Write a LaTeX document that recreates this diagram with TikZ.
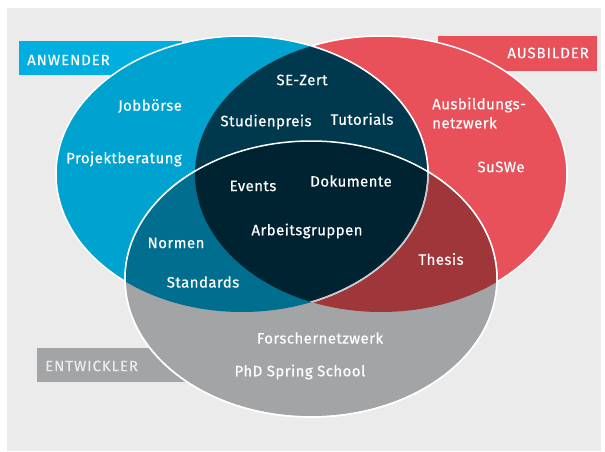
\documentclass[tikz,border=0pt]{standalone}
\usepackage{fontspec}
\setmainfont{Fira Sans}
\newfontfamily\vennfont{Fira Sans}[FakeBold=0.4, LetterSpace=3]
\newfontfamily\tagfont{Fira Sans}[FakeBold=0.4, LetterSpace=6]
\usepackage{tkz-euclide}
\usetikzlibrary{calc}
\usetikzlibrary{positioning}

\definecolor{paper}{RGB}{235,235,235}
\definecolor{anwBlue}{RGB}{0,162,207}
\definecolor{anwTag}{RGB}{0,174,224}
\definecolor{ausRed}{RGB}{232,80,90}
\definecolor{entGrey}{RGB}{163,164,166}
\definecolor{anwAus}{RGB}{0,56,77}
\definecolor{anwEnt}{RGB}{0,110,143}
\definecolor{ausEnt}{RGB}{158,54,58}
\definecolor{allThree}{RGB}{0,35,50}
\definecolor{seam}{RGB}{200,200,202}

\newcommand{\vennset}[1]{(#1) ellipse [x radius=186, y radius=138]}

\tikzset{
  rim/.style={draw=white, line width=1.5pt},
  tag/.style={inner sep=0pt, text=white, font=\tagfont\fontsize{15}{18}\selectfont},
  item/.style={inner sep=0pt, text=white, align=center,
    font=\vennfont\fontsize{15}{19}\selectfont}
}

\begin{document}
\begin{tikzpicture}[x=1pt, y=1pt]
      \useasboundingbox (0,0) rectangle (605,451);
      \fill[white] (0,0) rectangle (605,451);
      \fill[paper] (7,0) rectangle (601,443);

      \tkzDefPoints{242/277/B, 381/277/R, 311/172/G}

      \fill[anwTag] (19,376) rectangle (182,410);
      \fill[ausRed] (438,380) rectangle (597,415);
      \fill[entGrey] (37,69) rectangle (190,103);

      \fill[ausRed, rim] \vennset{R};
      \fill[anwBlue, rim] \vennset{B};
      \fill[entGrey, rim] \vennset{G};

      \begin{scope}
        \clip \vennset{R};
        \fill[ausEnt] \vennset{G};
      \end{scope}
      \begin{scope}
        \clip \vennset{B};
        \fill[anwAus] \vennset{R};
        \fill[anwEnt] \vennset{G};
        \clip \vennset{R};
        \fill[allThree] \vennset{G};
      \end{scope}
      \begin{scope}
        \clip \vennset{R};
        \draw[rim] \vennset{B};
        \clip \vennset{G};
        \draw[rim, draw=seam] \vennset{B};
      \end{scope}
      \draw[rim] \vennset{G};

      \node[tag, anchor=west] (anwender) at (27,391) {ANWENDER};
      \node[tag, anchor=east] (ausbilder) at (589,398) {AUSBILDER};
      \node[tag, anchor=west, text=paper] (entwickler) at (45,85) {ENTWICKLER};

      \node[item] (jobboerse) at (150,345) {Jobbörse};
      \node[item] (projekt) at (124,292) {Projektberatung};
      \node[item] (sezert) at (302,371) {SE-Zert};
      \node[item] (studienpreis) at (266,329) {Studienpreis};
      \node[item] (tutorials) at (362,332) {Tutorials};
      \node[item, align=left, anchor=west] (ausbnetz) at (432,338) {Ausbildungs-\\netzwerk};
      \node[item] (suswe) at (501,284) {SuSWe};
      \node[item] (events) at (253,265) {Events};
      \node[item] (dokumente) at (351,270) {Dokumente};
      \node[item] (arbeitsgr) at (307,220) {Arbeitsgruppen};
      \node[item] (normen) at (176,208) {Normen};
      \node[item] (standards) at (203,169) {Standards};
      \node[item] (thesis) at (441,192) {Thesis};
      \node[item] (forscher) at (320,113) {Forschernetzwerk};
      \node[item] (phd) at (300,79) {PhD Spring School};
    \end{tikzpicture}
\end{document}
